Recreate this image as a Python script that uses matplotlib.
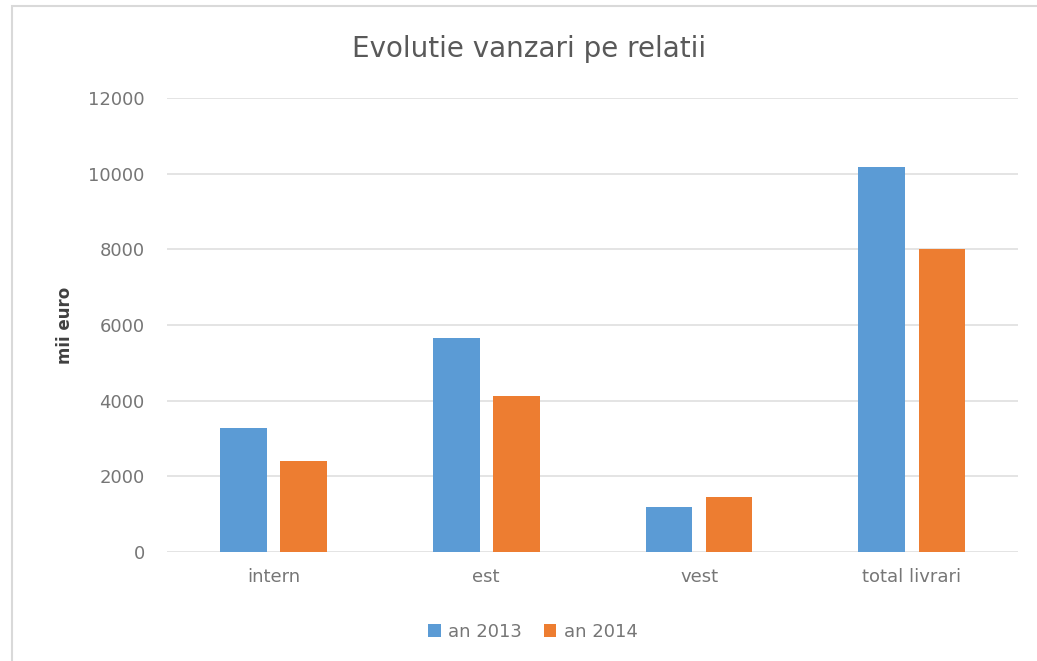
import matplotlib
matplotlib.use("Agg")
import matplotlib.pyplot as plt
import numpy as np

# Chart data
categories = ['intern', 'est', 'vest', 'total livrari']
series_names = ['an 2013', 'an 2014']
values_2013 = [3265, 5650, 1190, 10190]
values_2014 = [2410, 4120, 1440, 8000]
y_ticks = [0, 2000, 4000, 6000, 8000, 10000, 12000]

blue = '#5B9BD5'
orange = '#ED7D31'
text_gray = '#767676'

fig = plt.figure(figsize=(10.37, 6.61), dpi=100)
ax = fig.add_axes([0.161, 0.1654, 0.821, 0.686])

x = np.arange(len(categories))
w = 0.22
ax.bar(x - 0.141, values_2013, w, color=blue, label=series_names[0], zorder=3)
ax.bar(x + 0.141, values_2014, w, color=orange, label=series_names[1], zorder=3)

ax.set_xlim(-0.5, len(categories) - 0.5)
ax.set_ylim(0, 12000)
ax.set_yticks(y_ticks)
ax.set_yticklabels([str(t) for t in y_ticks])
ax.set_xticks(x)
ax.set_xticklabels(categories)
ax.tick_params(axis='both', length=0, labelsize=13, colors=text_gray)
ax.tick_params(axis='y', pad=16)
ax.tick_params(axis='x', pad=12)
ax.yaxis.grid(True, color='#dcdcdc', linewidth=1.1, zorder=0)
for s in ax.spines.values():
    s.set_visible(False)

ax.set_ylabel('mii euro', fontsize=12, fontweight='bold', color='#404040', labelpad=10)

fig.text(529 / 1037, 1 - 49 / 661, 'Evolutie vanzari pe relatii', ha='center', va='center',
         fontsize=20, color='#595959')

leg = fig.legend(loc='center', bbox_to_anchor=(533 / 1037, 1 - 632 / 661), ncol=2,
                 frameon=False, fontsize=13, handlelength=0.7, handleheight=0.7,
                 handletextpad=0.4, columnspacing=1.2)
for t in leg.get_texts():
    t.set_color(text_gray)

# light outer frame
frame = plt.Rectangle((12 / 1037, -0.05), 1.05, 1 - 6 / 661 + 0.05, transform=fig.transFigure,
                      fill=False, edgecolor='#d9d9d9', linewidth=1.5)
fig.patches.append(frame)

fig.savefig('out.png', dpi=100)
